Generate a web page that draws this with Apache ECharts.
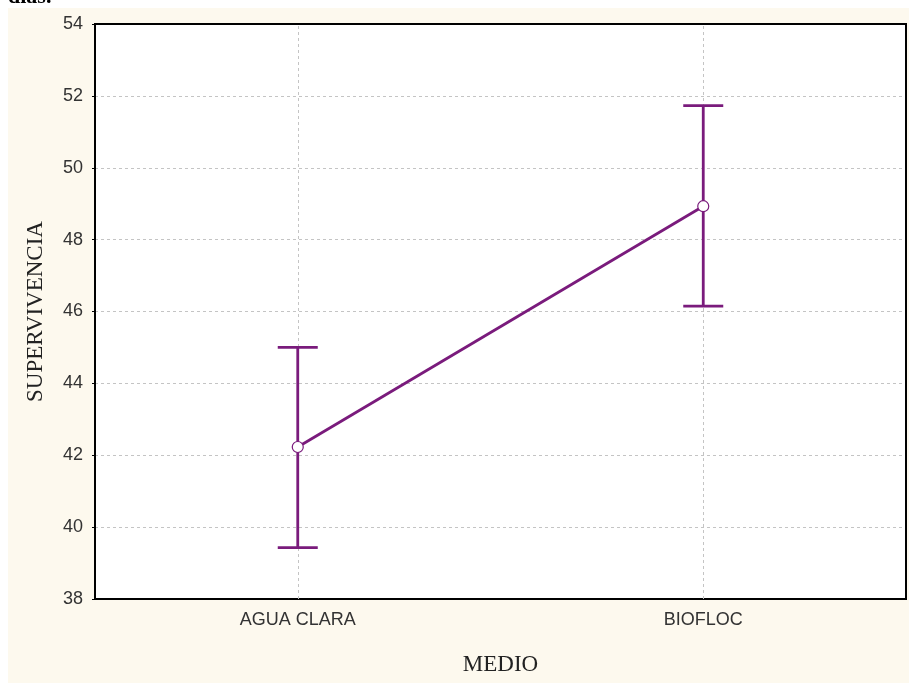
<!DOCTYPE html>
<html><head><meta charset="utf-8">
<script src="https://cdn.jsdelivr.net/npm/echarts@6/dist/echarts.min.js"></script>
<style>html,body{margin:0;padding:0;background:#fff}#c{width:909px;height:683px}</style>
</head><body><div id="c"></div>
<script>
const categories = ['AGUA CLARA', 'BIOFLOC'];
const means = [42.23, 48.93];
const upper = [45.0, 51.73];
const lower = [39.43, 46.15];
const yTicks = [38, 54, 2];

const purple = '#7a1b7c';
const gridDash = {type: [3, 3], color: '#c4c4c4', width: 1};
const chart = echarts.init(document.getElementById('c'));
chart.setOption({
  animation: false,
  backgroundColor: '#ffffff',
  graphic: [
    {type: 'rect', shape: {x: 8, y: 8, width: 901, height: 675}, style: {fill: '#fdf9ee'}, z: -10},
    {type: 'text', left: 8, top: -14, style: {text: 'días.', font: 'bold 22px "Liberation Serif", "Times New Roman", serif', fill: '#000'}}
  ],
  grid: {left: 95, top: 24, right: 3, bottom: 84, show: true, backgroundColor: '#ffffff', borderColor: '#000', borderWidth: 2},
  xAxis: [{
    type: 'category', data: categories, boundaryGap: true,
    name: 'MEDIO', nameLocation: 'middle', nameGap: 54,
    nameTextStyle: {fontFamily: '"Liberation Serif", "Times New Roman", serif', fontSize: 23, color: '#222'},
    axisLine: {lineStyle: {color: '#000', width: 2}},
    axisTick: {show: false},
    axisLabel: {fontFamily: '"Liberation Sans", Arial, sans-serif', fontSize: 18, color: '#333', margin: 12},
    splitLine: {show: false}
  }, {
    type: 'category', data: categories, boundaryGap: true, position: 'top',
    axisLine: {show: true, lineStyle: {color: '#000', width: 2}},
    axisTick: {show: false}, axisLabel: {show: false}, splitLine: {show: false}
  }],
  yAxis: [{
    type: 'value', min: yTicks[0], max: yTicks[1], interval: yTicks[2],
    name: 'SUPERVIVENCIA', nameLocation: 'middle', nameGap: 48, nameRotate: 90,
    nameTextStyle: {fontFamily: '"Liberation Serif", "Times New Roman", serif', fontSize: 23, color: '#222'},
    axisLine: {show: true, lineStyle: {color: '#000', width: 2}},
    axisTick: {show: true, length: 3, lineStyle: {color: '#000'}},
    axisLabel: {fontFamily: '"Liberation Sans", Arial, sans-serif', fontSize: 18, color: '#333', margin: 12},
    splitLine: {show: true, showMinLine: false, showMaxLine: false, lineStyle: gridDash}
  }, {
    type: 'value', min: yTicks[0], max: yTicks[1], interval: yTicks[2], position: 'right',
    axisLine: {show: true, lineStyle: {color: '#000', width: 2}},
    axisTick: {show: false}, axisLabel: {show: false}, splitLine: {show: false}
  }],
  series: [
    {
      type: 'custom',
      data: categories.map((c, i) => [i, lower[i], upper[i]]),
      renderItem: function (params, api) {
        const lo = api.coord([api.value(0), api.value(1)]);
        const hi = api.coord([api.value(0), api.value(2)]);
        const hw = 20;
        const st = {stroke: purple, lineWidth: 2.8};
        return {type: 'group', children: [
          {type: 'line', shape: {x1: lo[0], y1: lo[1], x2: hi[0], y2: hi[1]}, style: st},
          {type: 'line', shape: {x1: lo[0] - hw, y1: lo[1], x2: lo[0] + hw, y2: lo[1]}, style: st},
          {type: 'line', shape: {x1: hi[0] - hw, y1: hi[1], x2: hi[0] + hw, y2: hi[1]}, style: st}
        ]};
      },
      z: 3
    },
    {
      type: 'line', data: means,
      lineStyle: {color: purple, width: 2.8},
      symbol: 'circle', symbolSize: 11,
      itemStyle: {color: '#ffffff', borderColor: purple, borderWidth: 1.2},
      markLine: {
        silent: true, symbol: ['none', 'none'], label: {show: false},
        lineStyle: gridDash, z: 1,
        data: categories.map(c => ({xAxis: c}))
      },
      z: 4
    }
  ]
});
</script></body></html>
